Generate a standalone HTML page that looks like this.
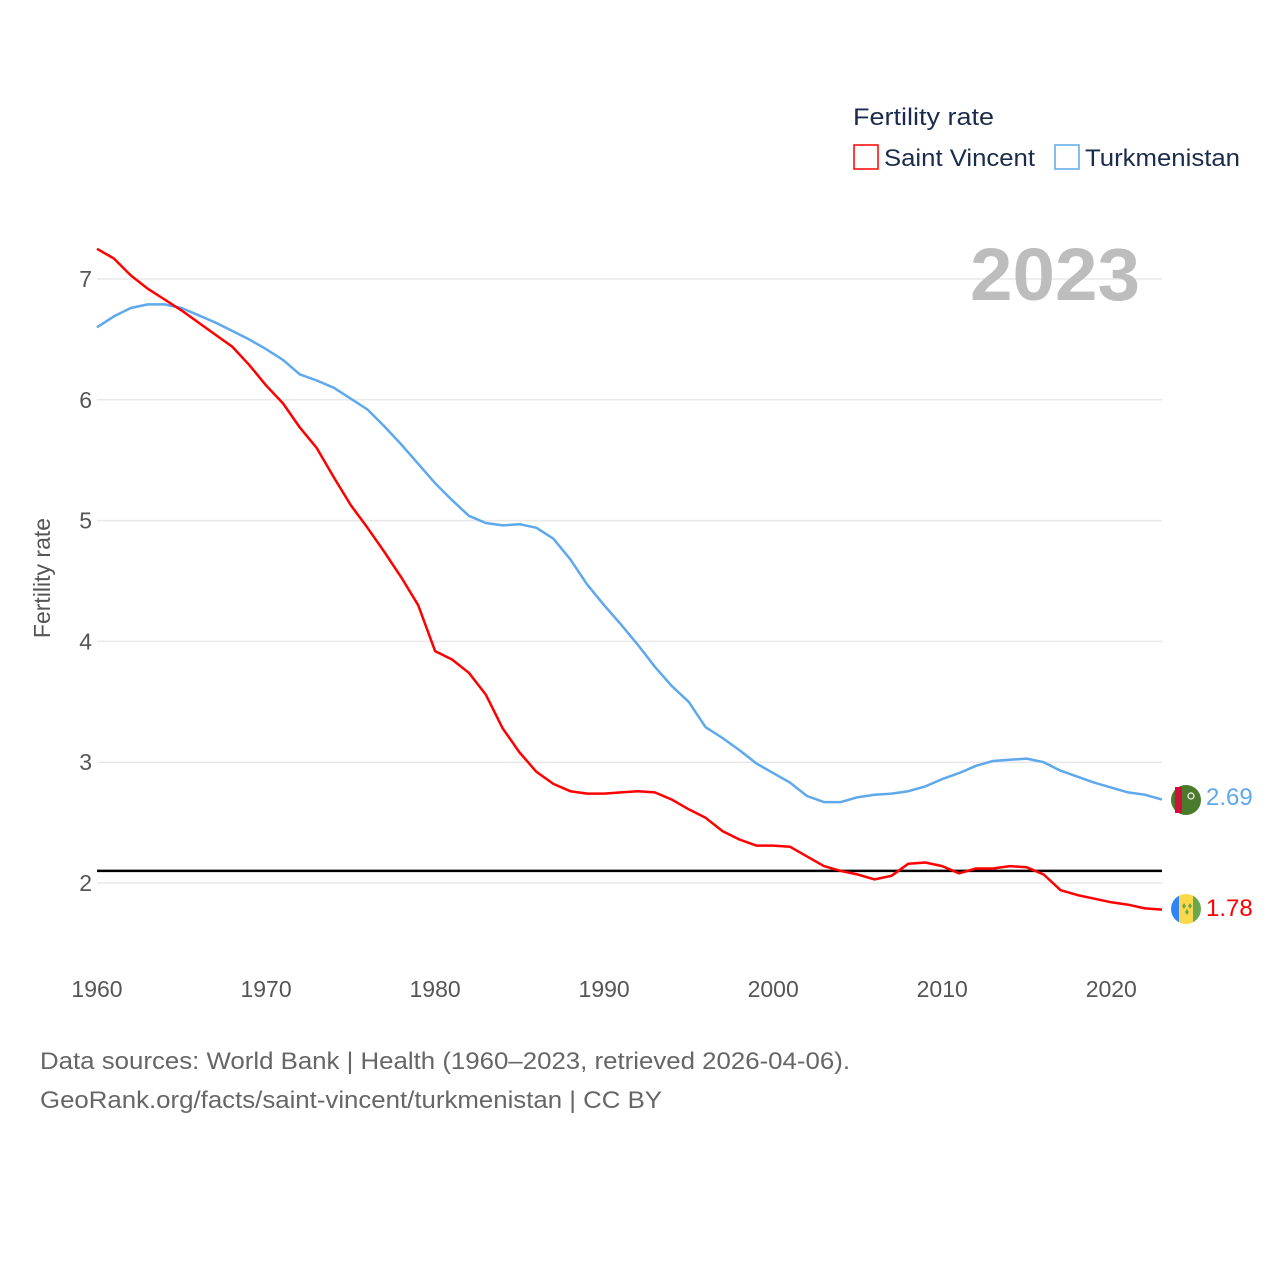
<!DOCTYPE html>
<html><head><meta charset="utf-8">
<style>
body{margin:0;background:#fff;}
svg text{font-family:"Liberation Sans",sans-serif;}
</style></head>
<body>
<svg id="chart" width="1280" height="1280" viewBox="0 0 1280 1280" xmlns="http://www.w3.org/2000/svg">
<rect width="1280" height="1280" fill="#fff"/>
<g id="grid"></g>
<g id="yticks"></g>
<g id="xticks"></g>
<text x="970" y="300" textLength="170" lengthAdjust="spacingAndGlyphs" font-size="74" font-weight="bold" fill="#bdbdbd">2023</text>
<text transform="translate(50,578) rotate(-90)" text-anchor="middle" font-size="23" fill="#555">Fertility rate</text>
<g id="series"></g>
<g>
<text x="853" y="125" font-size="24" textLength="141" lengthAdjust="spacingAndGlyphs" fill="#1b2b4b">Fertility rate</text>
<g>
<rect x="854" y="145" width="24" height="24" fill="none" stroke="#ff0000" stroke-width="1.5"/>
<text x="884" y="166" font-size="24" textLength="151" lengthAdjust="spacingAndGlyphs" fill="#1b2b4b">Saint Vincent</text></g>
<g>
<rect x="1055" y="145" width="24" height="24" fill="none" stroke="#5ea8ec" stroke-width="1.5"/>
<text x="1085" y="166" font-size="24" textLength="155" lengthAdjust="spacingAndGlyphs" fill="#1b2b4b">Turkmenistan</text></g>
</g>
<g>
<circle cx="1186" cy="800" r="15" fill="#4a7a2c"/>
<rect x="1175" y="787" width="7" height="26" fill="#d0103a"/>
<circle cx="1191" cy="796" r="3" fill="none" stroke="#fff" stroke-width="1.2"/>
</g>
<text x="1206" y="805" font-size="24" fill="#5ea8ec">2.69</text>
<g>
<clipPath id="svc"><circle cx="1186" cy="909" r="15"/></clipPath>
<g clip-path="url(#svc)">
<rect x="1171" y="894" width="8" height="30" fill="#2f86f0"/>
<rect x="1179" y="894" width="14" height="30" fill="#fcd84a"/>
<rect x="1193" y="894" width="8" height="30" fill="#6aa84f"/>
<path d="M1182 906 l2 -3 2 3 -2 3z M1188 906 l2 -3 2 3 -2 3z M1185 912 l2 -3 2 3 -2 3z" fill="#6aa84f"/>
</g></g>
<text x="1206" y="916" font-size="24" fill="#ff0000">1.78</text>
<text x="40" y="1069" font-size="24" textLength="810" lengthAdjust="spacingAndGlyphs" fill="#666">Data sources: World Bank | Health (1960–2023, retrieved 2026-04-06).</text>
<text x="40" y="1108" font-size="24" textLength="622" lengthAdjust="spacingAndGlyphs" fill="#666">GeoRank.org/facts/saint-vincent/turkmenistan | CC BY</text>
</svg>
<script>
const years = [];
for (let y = 1960; y <= 2023; y++) years.push(y);
const saintVincent = [7.25,7.17,7.03,6.92,6.83,6.74,6.64,6.54,6.44,6.29,6.12,5.97,5.77,5.60,5.36,5.13,4.94,4.74,4.53,4.30,3.92,3.85,3.74,3.56,3.28,3.08,2.92,2.82,2.76,2.74,2.74,2.75,2.76,2.75,2.69,2.61,2.54,2.43,2.36,2.31,2.31,2.30,2.22,2.14,2.10,2.07,2.03,2.06,2.16,2.17,2.14,2.08,2.12,2.12,2.14,2.13,2.07,1.94,1.90,1.87,1.84,1.82,1.79,1.78];
const turkmenistan = [6.60,6.69,6.76,6.79,6.79,6.76,6.70,6.64,6.57,6.50,6.42,6.33,6.21,6.16,6.10,6.01,5.92,5.78,5.63,5.47,5.31,5.17,5.04,4.98,4.96,4.97,4.94,4.85,4.68,4.47,4.30,4.14,3.97,3.79,3.63,3.50,3.29,3.20,3.10,2.99,2.91,2.83,2.72,2.67,2.67,2.71,2.73,2.74,2.76,2.80,2.86,2.91,2.97,3.01,3.02,3.03,3.00,2.93,2.88,2.83,2.79,2.75,2.73,2.69];
const yTicks = [2,3,4,5,6,7];
const xTicks = [1960,1970,1980,1990,2000,2010,2020];
const replacementRate = 2.1;

const NS = "http://www.w3.org/2000/svg";
const X0 = 97, X1 = 1162, Y2 = 883, PER = 120.8;
function xs(yr){ return X0 + (yr - 1960) * (X1 - X0) / 63; }
function ys(v){ return Y2 - (v - 2) * PER; }
function mk(tag, attrs, parent){ const e = document.createElementNS(NS, tag); for (const k in attrs) e.setAttribute(k, attrs[k]); parent.appendChild(e); return e; }

const grid = document.getElementById('grid');
const yt = document.getElementById('yticks');
yTicks.forEach(v => {
  const l = mk('line', {x1: X0, x2: X1, y1: ys(v), y2: ys(v), stroke: '#e8e8e8', 'stroke-width': 1.5}, grid);
  
  
  const t = mk('text', {x: 92, y: ys(v) + 8, 'text-anchor': 'end', 'font-size': 23, fill: '#555'}, yt);
  t.textContent = v;
  
  
});
const xt = document.getElementById('xticks');
xTicks.forEach(yr => {
  const t = mk('text', {x: xs(yr), y: 997, 'text-anchor': 'middle', 'font-size': 23, fill: '#555'}, xt);
  t.textContent = yr;
  
  
});
const ser = document.getElementById('series');
const ref = mk('line', {x1: X0, x2: X1, y1: ys(replacementRate), y2: ys(replacementRate), stroke: '#000', 'stroke-width': 2.5}, ser);


function line(vals, color, name){
  const d = vals.map((v, i) => (i ? 'L' : 'M') + xs(years[i]).toFixed(1) + ' ' + ys(v).toFixed(1)).join(' ');
  const p = mk('path', {d: d, fill: 'none', stroke: color, 'stroke-width': 2.5, 'stroke-linejoin': 'round'}, ser);
  
  
}
line(turkmenistan, '#5ea8ec', 'turkmenistan-line');
line(saintVincent, '#ff0000', 'saint-vincent-line');
</script>
</body></html>
